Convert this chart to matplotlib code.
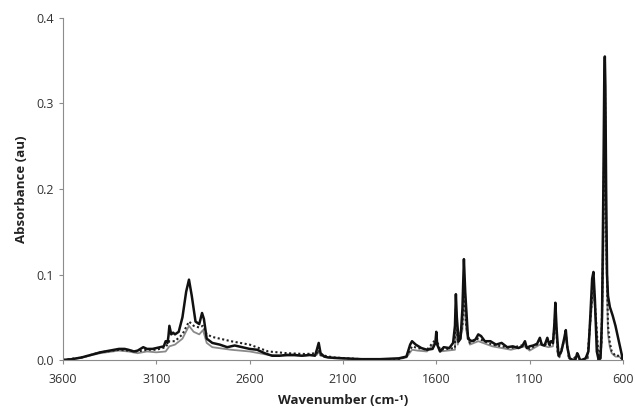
import matplotlib
matplotlib.use('Agg')
import matplotlib.pyplot as plt

# solid black spectrum
solid_wn = [3600, 3550, 3500, 3450, 3400, 3350, 3300, 3270, 3250, 3220, 3200, 3170, 3150, 3120, 3100,
            3060, 3050, 3040, 3035, 3030, 3020, 3010, 3000, 2980, 2960, 2940, 2925, 2910, 2890, 2870,
            2855, 2845, 2830, 2800, 2760, 2720, 2680, 2640, 2600, 2560, 2520, 2480, 2440, 2400, 2360,
            2320, 2280, 2250, 2240, 2230, 2220, 2200, 2180, 2100, 2000, 1900, 1800, 1760, 1740, 1730,
            1710, 1680, 1650, 1620, 1605, 1600, 1595, 1580, 1560, 1530, 1510, 1500, 1495, 1490, 1480,
            1470, 1460, 1452, 1445, 1430, 1410, 1390, 1375, 1360, 1340, 1310, 1280, 1250, 1220, 1190,
            1160, 1140, 1125, 1115, 1100, 1080, 1060, 1045, 1035, 1020, 1005, 995, 985, 975, 968,
            962, 955, 945, 930, 915, 906, 898, 885, 870, 855, 845, 838, 830, 820, 800,
            785, 775, 765, 758, 750, 740, 730, 720, 712, 705, 700, 697, 694, 690, 685,
            680, 670, 655, 640, 625, 610, 600]
solid_abs = [0.0, 0.001, 0.003, 0.006, 0.009, 0.011, 0.013, 0.013, 0.012, 0.010, 0.011, 0.015, 0.013, 0.013, 0.014,
             0.016, 0.022, 0.020, 0.028, 0.040, 0.030, 0.032, 0.030, 0.033, 0.050, 0.080, 0.094, 0.075, 0.045, 0.042,
             0.055, 0.048, 0.025, 0.020, 0.018, 0.015, 0.017, 0.015, 0.013, 0.012, 0.008, 0.005, 0.005, 0.006, 0.006,
             0.005, 0.006, 0.005, 0.012, 0.020, 0.008, 0.004, 0.003, 0.002, 0.001, 0.001, 0.002, 0.004, 0.018, 0.022,
             0.018, 0.014, 0.012, 0.013, 0.020, 0.033, 0.018, 0.010, 0.015, 0.014, 0.020, 0.040, 0.077, 0.050, 0.022,
             0.025, 0.060, 0.118, 0.080, 0.025, 0.022, 0.024, 0.030, 0.028, 0.022, 0.022, 0.018, 0.020, 0.015, 0.016,
             0.014, 0.016, 0.022, 0.014, 0.016, 0.017, 0.019, 0.026, 0.018, 0.017, 0.026, 0.018, 0.022, 0.020, 0.040,
             0.067, 0.035, 0.005, 0.010, 0.025, 0.035, 0.015, 0.002, 0.0, 0.0, 0.008, 0.005, 0.0, 0.0, 0.002,
             0.010, 0.050, 0.095, 0.103, 0.070, 0.010, 0.0, 0.002, 0.050, 0.200, 0.330, 0.355, 0.320, 0.200, 0.100,
             0.075, 0.062, 0.052, 0.040, 0.025, 0.010, 0.0]

# dotted black spectrum
dotted_wn = [3600, 3500, 3400, 3300, 3250, 3200, 3150, 3100, 3050, 3030, 3000, 2960, 2925, 2900,
             2870, 2850, 2830, 2800, 2700, 2600, 2500, 2400, 2300, 2240, 2230, 2220, 2150, 2000,
             1800, 1760, 1730, 1700, 1650, 1600, 1580, 1500, 1495, 1485, 1460, 1452, 1440, 1420,
             1375, 1300, 1200, 1125, 1100, 1045, 1000, 975, 962, 950, 940, 906, 890, 870, 845,
             830, 790, 770, 758, 745, 730, 715, 705, 697, 690, 680, 670, 660, 640, 620, 600]
dotted_abs = [0.0, 0.003, 0.009, 0.012, 0.011, 0.010, 0.012, 0.012, 0.015, 0.022, 0.022, 0.030, 0.045, 0.040,
              0.038, 0.040, 0.030, 0.027, 0.022, 0.018, 0.010, 0.008, 0.007, 0.008, 0.012, 0.006, 0.003, 0.001,
              0.001, 0.004, 0.016, 0.014, 0.012, 0.025, 0.012, 0.014, 0.060, 0.020, 0.040, 0.090, 0.040, 0.020,
              0.025, 0.018, 0.014, 0.018, 0.013, 0.020, 0.017, 0.018, 0.055, 0.010, 0.004, 0.030, 0.003, 0.0, 0.006,
              0.0, 0.002, 0.060, 0.090, 0.050, 0.0, 0.020, 0.150, 0.340, 0.150, 0.040, 0.020, 0.010, 0.005, 0.005, 0.0]

# grey spectrum
grey_wn = [3600, 3500, 3400, 3300, 3250, 3200, 3150, 3100, 3050, 3030, 3000, 2960, 2925, 2900,
           2870, 2850, 2830, 2800, 2700, 2600, 2500, 2400, 2300, 2240, 2230, 2220, 2150, 2000,
           1800, 1760, 1730, 1700, 1650, 1600, 1580, 1500, 1495, 1485, 1460, 1452, 1440, 1420,
           1375, 1300, 1200, 1125, 1100, 1045, 1000, 975, 962, 950, 940, 906, 890, 870, 845,
           830, 790, 770, 758, 745, 730, 715, 705, 697, 690, 680, 670, 660, 640, 620, 600]
grey_abs = [0.0, 0.003, 0.008, 0.011, 0.010, 0.008, 0.010, 0.009, 0.010, 0.016, 0.018, 0.025, 0.040, 0.033,
            0.030, 0.035, 0.020, 0.015, 0.012, 0.010, 0.006, 0.005, 0.005, 0.006, 0.010, 0.005, 0.002, 0.001,
            0.001, 0.003, 0.012, 0.011, 0.010, 0.022, 0.010, 0.012, 0.055, 0.018, 0.035, 0.080, 0.035, 0.018,
            0.022, 0.016, 0.012, 0.016, 0.011, 0.018, 0.015, 0.016, 0.050, 0.008, 0.003, 0.028, 0.002, 0.0, 0.005,
            0.0, 0.002, 0.055, 0.085, 0.045, 0.0, 0.015, 0.120, 0.300, 0.130, 0.030, 0.015, 0.008, 0.004, 0.004, 0.0]

x_ticks = [3600, 3100, 2600, 2100, 1600, 1100, 600]
y_ticks = [0.0, 0.1, 0.2, 0.3, 0.4]

plt.rcParams['font.family'] = ['Open Sans', 'DejaVu Sans']

fig = plt.figure(figsize=(6.35, 4.08), dpi=100)
ax = fig.add_axes([0.0992, 0.1176, 0.8818, 0.8383])

ax.plot(grey_wn, grey_abs, color='#8a8a8a', lw=1.3)
ax.plot(dotted_wn, dotted_abs, color='#222222', lw=1.5, linestyle=(0, (1, 1.2)))
ax.plot(solid_wn, solid_abs, color='#111111', lw=1.8)

ax.set_xlim(3600, 600)
ax.set_ylim(0, 0.4)
ax.set_xticks(x_ticks)
ax.set_yticks(y_ticks)
ax.set_yticklabels([f'{v:.1f}' for v in y_ticks])

for s in ['top', 'right']:
    ax.spines[s].set_visible(False)
for s in ['left', 'bottom']:
    ax.spines[s].set_color('#8c8c8c')
    ax.spines[s].set_linewidth(0.8)
ax.tick_params(axis='both', labelsize=9, colors='#8c8c8c', labelcolor='#333333', length=3, width=0.8)
ax.tick_params(axis='x', pad=6)

ax.set_xlabel('Wavenumber (cm-¹)', fontsize=9.5, fontweight='bold', color='#222222', labelpad=6)
ax.set_ylabel('Absorbance (au)', fontsize=9.5, fontweight='bold', color='#222222', labelpad=6)

fig.savefig('out.png', dpi=100)
